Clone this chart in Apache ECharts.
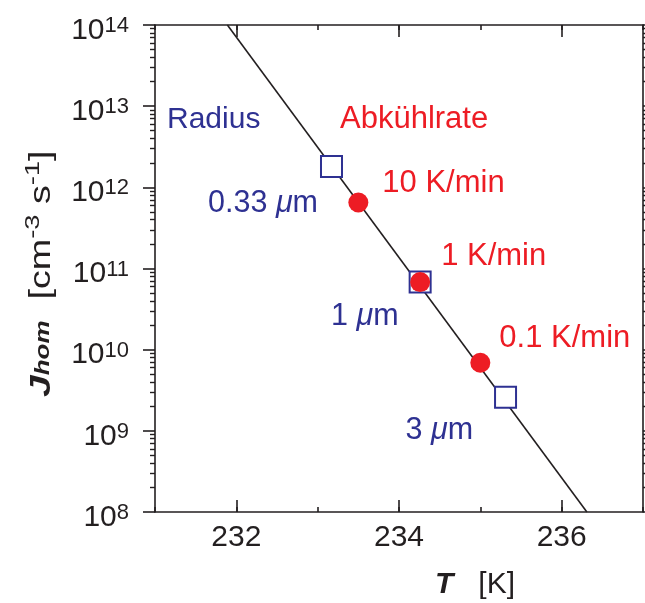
<!DOCTYPE html>
<html>
<head>
<meta charset="utf-8">
<script src="https://cdn.jsdelivr.net/npm/echarts@6/dist/echarts.min.js"></script>
<style>
  html, body { margin: 0; padding: 0; background: #ffffff; }
  #chart { width: 645px; height: 603px; }
</style>
</head>
<body>
<div id="chart"></div>
<script>
// Homogeneous nucleation rate J_hom versus temperature T
const fitLineT = [231.89, 236.31];
const fitLineJ = [1e14, 1e8];

const radiusNames = ['0.33 μm', '1 μm', '3 μm'];
const radiusT = [233.17, 234.26, 235.31];
const radiusJ = [1.8e12, 6.8e10, 2.6e9];

const rateNames = ['10 K/min', '1 K/min', '0.1 K/min'];
const rateT = [233.50, 234.26, 235.00];
const rateJ = [6.5e11, 6.8e10, 6.9e9];

const xMajorTicks = [232, 234, 236];
const yDecadeExponents = [8, 9, 10, 11, 12, 13, 14];

// minor log ticks at 2..9 within every decade
const yMinorTicks = [];
for (let e = 8; e < 14; e++) {
  for (let m = 2; m <= 9; m++) yMinorTicks.push(m * Math.pow(10, e));
}

const BLUE = '#2e3192';
const RED = '#ed1c24';
const INK = '#231f20';
const FONT = '"Liberation Sans", Arial, Helvetica, sans-serif';

// label placement for the two marker groups (distance from marker, vertical shift)
const radiusLabelPlace = [
  { distance: 2, dy: 37 },
  { distance: 10, dy: 34 },
  { distance: 21, dy: 33 }
];
const rateLabelPlace = [
  { distance: 14, dy: -19 },
  { distance: 11, dy: -26 },
  { distance: 9, dy: -24 }
];

function muRich(name) {
  return name.split('μ').map((part, i) => (i > 0 ? '{mu|μ}' : '') + (part ? '{n|' + part + '}' : '')).join('');
}

const baseAxis = {
  min: 231, max: 237, interval: 1,
  splitLine: { show: false }
};

const chart = echarts.init(document.getElementById('chart'), null, { renderer: 'canvas' });

chart.setOption({
  animation: false,
  backgroundColor: '#ffffff',
  textStyle: { fontFamily: FONT },
  grid: { left: 155, right: 2, top: 25, bottom: 91, containLabel: false },
  xAxis: [
    Object.assign({}, baseAxis, {
      type: 'value', position: 'bottom',
      axisLine: { show: true, onZero: false, lineStyle: { color: INK, width: 1.6 } },
      axisTick: { show: true, inside: true, length: 5, lineStyle: { color: INK, width: 1.6 } },
      axisLabel: {
        show: true, customValues: xMajorTicks, margin: 11,
        fontSize: 30, color: INK, fontFamily: FONT
      }
    }),
    Object.assign({}, baseAxis, {
      type: 'value', position: 'bottom',
      axisLine: { show: false },
      axisTick: { show: true, inside: true, length: 12, customValues: xMajorTicks, lineStyle: { color: INK, width: 1.6 } },
      axisLabel: { show: false }
    }),
    Object.assign({}, baseAxis, {
      type: 'value', position: 'top',
      axisLine: { show: true, onZero: false, lineStyle: { color: INK, width: 1.6 } },
      axisTick: { show: true, inside: true, length: 5, lineStyle: { color: INK, width: 1.6 } },
      axisLabel: { show: false }
    }),
    Object.assign({}, baseAxis, {
      type: 'value', position: 'top',
      axisLine: { show: false },
      axisTick: { show: true, inside: true, length: 12, customValues: xMajorTicks, lineStyle: { color: INK, width: 1.6 } },
      axisLabel: { show: false }
    })
  ],
  yAxis: [
    {
      type: 'log', logBase: 10, min: 1e8, max: 1e14, splitNumber: 6, position: 'left',
      splitLine: { show: false },
      axisLine: { show: true, onZero: false, lineStyle: { color: INK, width: 1.6 } },
      axisTick: { show: true, inside: false, length: 12, lineStyle: { color: INK, width: 1.6 } },
      axisLabel: {
        show: true, margin: 26, color: INK, fontFamily: FONT,
        customValues: yDecadeExponents.map(e => Math.pow(10, e)),
        formatter: v => '{b|10}{s|' + Math.round(Math.log10(v)) + '}',
        rich: {
          b: { fontSize: 30, lineHeight: 30, padding: [11, 0, 0, 0], color: INK, fontFamily: FONT },
          s: { fontSize: 22, lineHeight: 22, padding: [5, 0, 0, 0], verticalAlign: 'top', color: INK, fontFamily: FONT }
        }
      }
    },
    {
      type: 'log', logBase: 10, min: 1e8, max: 1e14, position: 'left',
      splitLine: { show: false },
      axisLine: { show: false },
      axisTick: { show: true, inside: false, length: 5, customValues: yMinorTicks, lineStyle: { color: INK, width: 1.4 } },
      axisLabel: { show: false }
    },
    {
      type: 'log', logBase: 10, min: 1e8, max: 1e14, splitNumber: 6, position: 'right',
      splitLine: { show: false },
      axisLine: { show: true, onZero: false, lineStyle: { color: INK, width: 1.6 } },
      axisTick: { show: true, inside: false, length: 12, lineStyle: { color: INK, width: 1.6 } },
      axisLabel: { show: false }
    },
    {
      type: 'log', logBase: 10, min: 1e8, max: 1e14, position: 'right',
      splitLine: { show: false },
      axisLine: { show: false },
      axisTick: { show: true, inside: false, length: 5, customValues: yMinorTicks, lineStyle: { color: INK, width: 1.4 } },
      axisLabel: { show: false }
    }
  ],
  series: [
    {
      name: 'fit', type: 'line', xAxisIndex: 0, yAxisIndex: 0,
      data: fitLineT.map((t, i) => [t, fitLineJ[i]]),
      showSymbol: false, symbol: 'none',
      lineStyle: { color: INK, width: 1.6 },
      clip: true, silent: true, z: 2
    },
    {
      name: 'Radius', type: 'scatter', xAxisIndex: 0, yAxisIndex: 0,
      symbol: 'rect', symbolSize: 21,
      itemStyle: { color: '#ffffff', borderColor: BLUE, borderWidth: 2, opacity: 1 },
      data: radiusT.map((t, i) => ({
        value: [t, radiusJ[i]],
        label: {
          show: true, position: 'left',
          distance: radiusLabelPlace[i].distance,
          offset: [0, radiusLabelPlace[i].dy],
          formatter: () => muRich(radiusNames[i]),
          rich: {
            n: { fontSize: 30.5, color: BLUE, fontFamily: FONT },
            mu: { fontSize: 30.5, color: BLUE, fontFamily: FONT, fontStyle: 'italic' }
          }
        }
      })),
      z: 3
    },
    {
      name: 'Abkühlrate', type: 'scatter', xAxisIndex: 0, yAxisIndex: 0,
      symbol: 'circle', symbolSize: 20,
      itemStyle: { color: RED, opacity: 1 },
      data: rateT.map((t, i) => ({
        value: [t, rateJ[i]],
        label: {
          show: true, position: 'right',
          distance: rateLabelPlace[i].distance,
          offset: [0, rateLabelPlace[i].dy],
          formatter: rateNames[i],
          fontSize: 31, color: RED, fontFamily: FONT
        }
      })),
      z: 4
    }
  ],
  graphic: [
    {
      type: 'text', left: 167, top: 105,
      style: { text: 'Radius', fontSize: 30, fill: BLUE, fontFamily: FONT }
    },
    {
      type: 'text', left: 340, top: 104,
      style: { text: 'Abkühlrate', fontSize: 31, fill: RED, fontFamily: FONT }
    },
    {
      type: 'text', x: 435, y: 585,
      style: {
        text: '{t|T}{n|   [K]}',
        align: 'left', verticalAlign: 'middle',
        rich: {
          t: { fontSize: 30, fontWeight: 'bold', fontStyle: 'italic', fill: INK, fontFamily: FONT },
          n: { fontSize: 30, fill: INK, fontFamily: FONT }
        }
      }
    },
    {
      type: 'text', x: 38, y: 397, rotation: Math.PI / 2, scaleX: 1.3,
      style: {
        text: '{j|J}{sub|hom}{n|  [cm}{sup|-3}{n| s}{sup|-1}{n|]}',
        align: 'left', verticalAlign: 'middle',
        rich: {
          j: { fontSize: 30, lineHeight: 30, padding: [8, 0, 0, 0], fontWeight: 'bold', fontStyle: 'italic', fill: INK, fontFamily: FONT },
          sub: { fontSize: 20, lineHeight: 20, verticalAlign: 'bottom', fontWeight: 'bold', fontStyle: 'italic', fill: INK, fontFamily: FONT },
          n: { fontSize: 29, lineHeight: 29, padding: [8, 0, 0, 0], fill: INK, fontFamily: FONT },
          sup: { fontSize: 21, lineHeight: 21, verticalAlign: 'top', fill: INK, fontFamily: FONT }
        }
      }
    }
  ]
});
</script>
</body>
</html>
